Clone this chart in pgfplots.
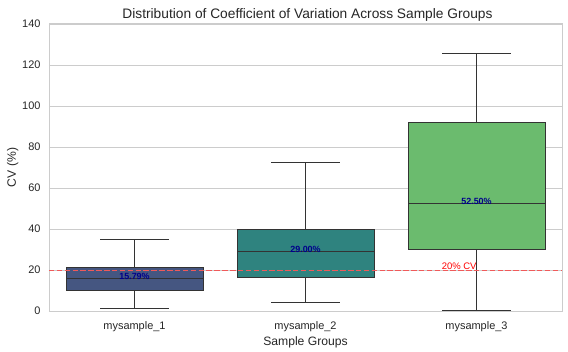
\documentclass[border=0pt]{standalone}
\usepackage{pgfplots}
\pgfplotsset{compat=1.18}
\usepackage{fontspec}
\setmainfont{Liberation Sans}
\definecolor{c1}{RGB}{69,86,129}
\definecolor{c2}{RGB}{47,131,127}
\definecolor{c3}{RGB}{107,187,110}
\definecolor{edge}{RGB}{51,51,51}
\definecolor{gridc}{RGB}{204,204,204}
\definecolor{txt}{RGB}{38,38,38}
\definecolor{navyc}{RGB}{0,0,139}
\definecolor{cvline}{RGB}{240,90,90}
\begin{document}
\begin{tikzpicture}
\begin{axis}[
  at={(0,0)}, anchor=south west,
  scale only axis, width=513bp, height=287bp,
  xmin=-0.5, xmax=2.5, ymin=0, ymax=140,
  xtick={0,1,2}, xticklabels={mysample\_1,mysample\_2,mysample\_3},
  ytick={0,20,...,140},
  ymajorgrids, grid style={gridc, line width=0.8pt},
  axis line style={gridc, line width=1pt},
  tick style={draw=none},
  tick label style={font=\fontsize{11}{13}\selectfont, text=txt},
  xticklabel style={yshift=-7pt},
  yticklabel style={xshift=-5pt},
  /pgf/number format/assume math mode=true,
  xlabel={Sample Groups}, ylabel={CV (\%)},
  label style={font=\fontsize{12.2}{14}\selectfont, text=txt},
  xlabel style={yshift=1.5pt},
  ylabel style={yshift=-3pt},
  title={Distribution of Coefficient of Variation Across Sample Groups},
  title style={font=\fontsize{13.8}{15}\selectfont, text=txt, yshift=-6.5pt, xshift=2pt},
  unbounded coords=jump,
]
% --- mysample_1: whislo=1.3, q1=10.1, med=15.79, q3=21.5, whishi=35
\addplot[draw=edge, fill=c1, line width=0.8pt] coordinates {(-0.4,10.1) (0.4,10.1) (0.4,21.5) (-0.4,21.5)} --cycle;
\addplot[draw=edge, line width=0.8pt] coordinates {(-0.4,15.79) (0.4,15.79) (nan,nan) (0,21.5) (0,35) (nan,nan) (-0.2,35) (0.2,35) (nan,nan) (0,10.1) (0,1.3) (nan,nan) (-0.2,1.3) (0.2,1.3)};
% --- mysample_2: whislo=4.2, q1=16.6, med=29.0, q3=39.9, whishi=72.5
\addplot[draw=edge, fill=c2, line width=0.8pt] coordinates {(0.6,16.6) (1.4,16.6) (1.4,39.9) (0.6,39.9)} --cycle;
\addplot[draw=edge, line width=0.8pt] coordinates {(0.6,29.0) (1.4,29.0) (nan,nan) (1,39.9) (1,72.5) (nan,nan) (0.8,72.5) (1.2,72.5) (nan,nan) (1,16.6) (1,4.2) (nan,nan) (0.8,4.2) (1.2,4.2)};
% --- mysample_3: whislo=0.3, q1=30.1, med=52.5, q3=92.0, whishi=125.7
\addplot[draw=edge, fill=c3, line width=0.8pt] coordinates {(1.6,30.1) (2.4,30.1) (2.4,92.0) (1.6,92.0)} --cycle;
\addplot[draw=edge, line width=0.8pt] coordinates {(1.6,52.5) (2.4,52.5) (nan,nan) (2,92.0) (2,125.7) (nan,nan) (1.8,125.7) (2.2,125.7) (nan,nan) (2,30.1) (2,0.3) (nan,nan) (1.8,0.3) (2.2,0.3)};
% --- 20% CV threshold
\addplot[draw=cvline, line width=1pt, dash pattern=on 5.5pt off 2.4pt] coordinates {(-0.5,20) (2.5,20)};
\node[anchor=south west, inner sep=1pt, text=red, font=\fontsize{9.5}{11}\selectfont] at (axis cs:1.79,19.6) {20\% CV};
\node[anchor=south, inner sep=0.5pt, text=navyc, font=\bfseries\fontsize{9}{10}\selectfont] at (axis cs:0,15.0) {15.79\%};
\node[anchor=south, inner sep=0.5pt, text=navyc, font=\bfseries\fontsize{9}{10}\selectfont] at (axis cs:1,28.2) {29.00\%};
\node[anchor=south, inner sep=0.5pt, text=navyc, font=\bfseries\fontsize{9}{10}\selectfont] at (axis cs:2,51.7) {52.50\%};
\end{axis}
\pgfresetboundingbox
\path[use as bounding box] (-49bp,-41bp) rectangle (519bp,311bp);
\end{tikzpicture}
\end{document}
